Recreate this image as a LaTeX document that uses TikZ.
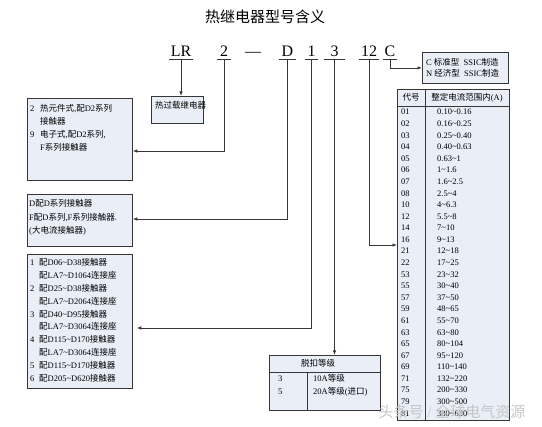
\documentclass[tikz,border=0pt]{standalone}
\usepackage{fontspec}
\setmainfont{Liberation Serif}
\newfontfamily\cjk{Noto Sans CJK SC}
\usetikzlibrary{arrows.meta,positioning}

% switch to the CJK family for Chinese characters
\XeTeXinterchartokenstate=1
\newXeTeXintercharclass\hanclass
\newcount\hanc
\hanc="4E00
\loop\XeTeXcharclass\hanc=\hanclass\ifnum\hanc<"9FFF\advance\hanc by 1\repeat
\hanc="FF00
\loop\XeTeXcharclass\hanc=\hanclass\ifnum\hanc<"FFEF\advance\hanc by 1\repeat
\XeTeXinterchartoks 0 \hanclass={\cjk}
\XeTeXinterchartoks 4095 \hanclass={\cjk}
\XeTeXinterchartoks \hanclass 0={\rmfamily}
\XeTeXinterchartoks \hanclass 4095={\rmfamily}

\newcommand\tld{\textasciitilde}
\definecolor{boxblue}{RGB}{233,238,247}
\definecolor{linegray}{RGB}{55,55,55}

\tikzset{
    pil/.style={ -{Latex[length=4.5pt,width=3.5pt]}, line width=0.75pt, draw=linegray},
    box/.style={ draw=linegray, line width=0.8pt, fill=boxblue, anchor=north west, inner sep=0pt},
    rule/.style={ draw=linegray, line width=0.7pt},
    code/.style={ font=\fontsize{16}{16}\selectfont, anchor=base, inner xsep=0pt, inner ysep=2pt},
    txt/.style={ font=\fontsize{8.5}{12}\selectfont, anchor=base west, inner sep=0pt},
  }

\begin{document}
\begin{tikzpicture}[x=1pt,y=-1pt]
\useasboundingbox (0,0) rectangle (542,427);

% title
  \node[font=\fontsize{15}{15}\selectfont, anchor=base] (title) at (265,22.5) {热继电器型号含义};

% model code
  \node[code, minimum width=23pt] (lr)  at (181,57)   {LR};
  \node[code, minimum width=14pt] (n2)  at (224,57)   {2};
  \node[code]                     (sep) at (253,57)   {—};
  \node[code, minimum width=17pt] (nd)  at (287.5,57) {D};
  \node[code, minimum width=13pt] (n1)  at (311.5,57) {1};
  \node[code, minimum width=21pt] (n3)  at (334.5,57) {3};
  \node[code, minimum width=19pt] (n12) at (369,57)   {12};
  \node[code, minimum width=14pt] (nc)  at (390,57)   {C};
  \foreach \n in {lr,n2,nd,n1,n3,n12,nc}
     \draw[rule] (\n.south west) -- (\n.south east);

% boxes
  \node[box, minimum width=52pt,  minimum height=27pt]  (relay) at (151,96)  {};
  \node[box, minimum width=105pt, minimum height=82pt]  (mode)  at (27,98)   {};
  \node[box, minimum width=105pt, minimum height=52pt]  (frame) at (27,194)  {};
  \node[box, minimum width=105pt, minimum height=134pt] (base)  at (27,254)  {};
  \node[box, minimum width=86pt,  minimum height=31pt]  (std)   at (422,52)  {};
  \node[box, minimum width=111pt, minimum height=55pt]  (trip)  at (269,355) {};
  \node[box, minimum width=112pt, minimum height=331pt] (tab)   at (397,89)  {};

% box texts
  \node[txt] (relaytxt) at (155,109) {热过载继电器};

  \foreach \num/\t [count=\i from 0] in {2/{热元件式,配D2系列}, /接触器, 9/{电子式,配D2系列,}, /F系列接触器}
     \node[txt] (mode-\i) at (30,112+12.7*\i) {\makebox[10pt][l]{\num}\t};

  \foreach \t [count=\i from 0] in {D配D系列接触器, {F配D系列,F系列接触器.}, (大电流接触器)}
     \node[txt] (frame-\i) at (29,207+13.5*\i) {\t};

  \foreach \num/\t [count=\i from 0] in {1/配D06\tld D38接触器, /配LA7\tld D1064连接座,
        2/配D25\tld D38接触器, /配LA7\tld D2064连接座, 3/配D40\tld D95接触器, /配LA7\tld D3064连接座,
        4/配D115\tld D170接触器, /配LA7\tld D3064连接座, 5/配D115\tld D170接触器, 6/配D205\tld D620接触器}
     \node[txt] (base-\i) at (30,266+12.78*\i) {\makebox[9pt][l]{\num}\t};

  \node[txt] (std-1) at (426,66) {C 标准型\ \ SSIC制造};
  \node[txt] (std-2) at (426,77) {N 经济型\ \ SSIC制造};

% trip class table
  \draw[rule] ([yshift=-17pt]trip.north west) -- ([yshift=-17pt]trip.north east);
  \draw[rule] ([xshift=38pt,yshift=-17pt]trip.north west) -- ([xshift=38pt]trip.south west);
  \node[txt, anchor=base] (triphead) at (318,367) {脱扣等级};
  \node[txt] (trip-1a) at (278,382) {3};
  \node[txt] (trip-1b) at (313,382) {10A等级};
  \node[txt] (trip-2a) at (278,395) {5};
  \node[txt] (trip-2b) at (313,395) {20A等级(进口)};

% current range table
  \draw[rule] ([yshift=-17pt]tab.north west) -- ([yshift=-17pt]tab.north east);
  \draw[rule] ([xshift=28pt]tab.north west) -- ([xshift=28pt]tab.south west);
  \node[txt, anchor=base] (head1) at (411,100.5) {代号};
  \node[txt, anchor=base] (head2) at (467,100.5) {整定电流范围内(A)};
  \foreach \cd/\rng [count=\i from 0] in {01/0.10\tld 0.16, 02/0.16\tld 0.25, 03/0.25\tld 0.40,
        04/0.40\tld 0.63, 05/0.63\tld 1, 06/1\tld 1.6, 07/1.6\tld 2.5, 08/2.5\tld 4, 10/4\tld 6.3,
        12/5.5\tld 8, 14/7\tld 10, 16/9\tld 13, 21/12\tld 18, 22/17\tld 25, 53/23\tld 32, 55/30\tld 40,
        57/37\tld 50, 59/48\tld 65, 61/55\tld 70, 63/63\tld 80, 65/80\tld 104, 67/95\tld 120,
        69/110\tld 140, 71/132\tld 220, 75/200\tld 330, 79/300\tld 500, 81/380\tld 630}
  {
     \node[txt] (cd-\i)  at (401,115+11.58*\i) {\cd};
     \node[txt] (rng-\i) at (437,115+11.58*\i) {\rng};
  }

% connectors
  \coordinate (h2)  at (0,151);
  \coordinate (hd)  at (0,219);
  \coordinate (h1)  at (0,328);
  \coordinate (h12) at (0,245);
  \draw[pil] (lr.south) -- (lr.south |- relay.north);
  \draw[pil] (n2.south) |- (mode.east |- h2);
  \draw[pil] (nd.south) |- (frame.east |- hd);
  \draw[pil, shorten >=4pt] (n1.south) |- (base.east |- h1);
  \draw[pil] (n3.south) -- (n3.south |- trip.north);
  \draw[pil] (n12.south) |- (tab.west |- h12);
  \draw[pil] (nc.south) |- (std.west);

% watermark
  \node[font=\cjk\fontsize{15}{15}\selectfont, text=gray!45] (mark) at (452,412) {头条号 / 全球电气资源};

\end{tikzpicture}
\end{document}
